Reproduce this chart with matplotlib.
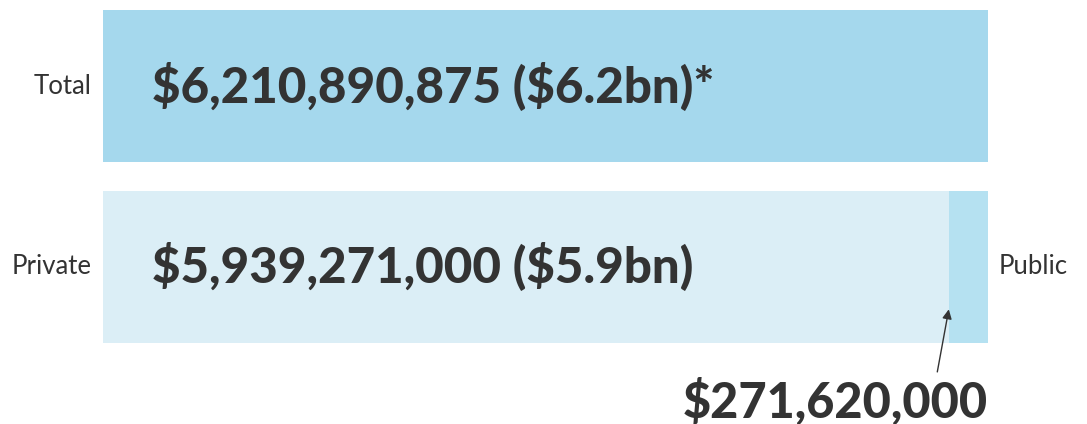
import matplotlib.pyplot as plt

# values
categories = ["Total", "Private"]
total_value = 6210890875
private_value = 5939271000
public_value = 271620000
value_labels = [r"\$6,210,890,875 (\$6.2bn)*", r"\$5,939,271,000 (\$5.9bn)"]
public_label = r"\$271,620,000"

plt.rcParams['font.family'] = ['Lato', 'DejaVu Sans']
TEXT = '#333333'

fig = plt.figure(figsize=(10.87, 4.24), dpi=100)
W, H = 1087, 424
# axes box spans the bars: x 103..988, y 10..343 px
ax = fig.add_axes([103 / W, 1 - 343 / H, (988 - 103) / W, (343 - 10) / H])

bar_h = 0.843
ax.barh(0, total_value, height=bar_h, color='#a5d8ed')
ax.barh(1, private_value, height=bar_h, color='#dbeef6')
ax.barh(1, public_value, left=private_value, height=bar_h, color='#b5e1f1')

ax.set_xlim(0, total_value)
ax.set_ylim(1 + bar_h / 2, -bar_h / 2)
ax.axis('off')

for i, (cat, lab) in enumerate(zip(categories, value_labels)):
    ax.annotate(cat, xy=(0, i), xytext=(-8, 0), textcoords='offset points',
                ha='right', va='center', fontsize=18.5, color=TEXT)
    ax.annotate(lab, xy=(0, i), xytext=(35, 0), textcoords='offset points',
                ha='left', va='center', fontsize=35.5, fontweight='black', color=TEXT)

ax.annotate("Public", xy=(total_value, 1), xytext=(8, 0), textcoords='offset points',
            ha='left', va='center', fontsize=18.5, color=TEXT, annotation_clip=False)

# arrow pointing to the thin public slice
ax.annotate('', xy=(private_value, 1.22), xytext=(-9, -49), textcoords='offset points',
            arrowprops=dict(arrowstyle='-|>', color=TEXT, lw=1.0, mutation_scale=14),
            annotation_clip=False)
ax.annotate(public_label, xy=(total_value, 1 + bar_h / 2), xytext=(0, -42),
            textcoords='offset points', ha='right', va='center', fontsize=35,
            fontweight='black', color=TEXT, annotation_clip=False)

fig.savefig('out.png', dpi=100)
